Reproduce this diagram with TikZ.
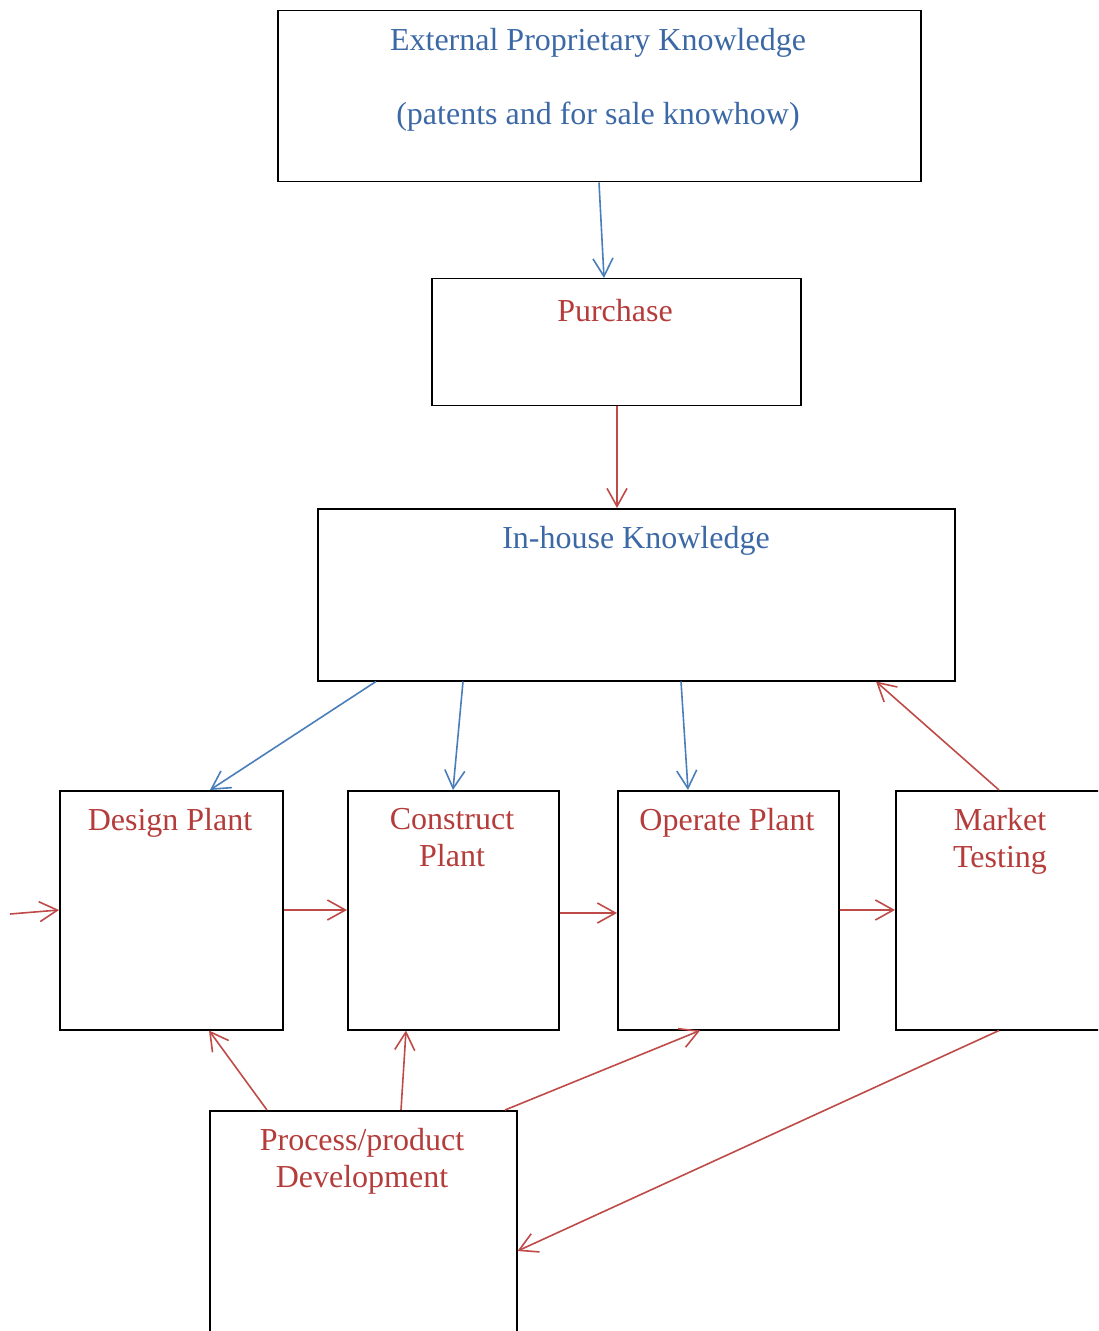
\documentclass[tikz,border=0pt]{standalone}
\usepackage{fontspec}
\setmainfont{Liberation Serif}
\usetikzlibrary{arrows.meta,calc}
\definecolor{bl}{RGB}{74,126,187}
\definecolor{rd}{RGB}{190,75,72}
\definecolor{blt}{RGB}{60,105,165}
\definecolor{rdt}{RGB}{180,60,58}
\begin{document}
\begin{tikzpicture}[x=0.5pt,y=-0.5pt,
  bx/.style 2 args={draw=black,line width=0.75pt,inner sep=0pt,anchor=north west,
     minimum width=#1*0.5pt,minimum height=#2*0.5pt},
  btxt/.style={text=blt,font=\fontsize{16}{18.5}\selectfont,align=center,inner sep=0pt},
  rtxt/.style={text=rdt,font=\fontsize{16}{18.5}\selectfont,align=center,inner sep=0pt},
  barr/.style={draw=bl,line width=0.8pt,-{Straight Barb[length=9pt,width=10pt,line width=0.8pt]}},
  rarr/.style={draw=rd,line width=0.8pt,-{Straight Barb[length=9pt,width=10pt,line width=0.8pt]}}]
\useasboundingbox (0,0) rectangle (1098,1331);
\begin{scope}
\clip (0,0) rectangle (1098,1331);
\node[bx={643}{171}] (ext) at (277,10) {};
\node[bx={369}{127}] (pur) at (431,278) {};
\node[bx={637}{172}] (inh) at (317,508) {};
\node[bx={223}{239}] (des) at (59,790) {};
\node[bx={211}{239}] (con) at (347,790) {};
\node[bx={221}{239}] (ope) at (617,790) {};
\node[bx={210}{239}] (mar) at (895,790) {};
\node[bx={307}{240}] (pro) at (209,1110) {};
\end{scope}
\node[btxt] (t1) at (598,43) {External Proprietary Knowledge};
\node[btxt] (t2) at (598,117) {(patents and for sale knowhow)};
\node[rtxt] (t3) at (615,311) {Purchase};
\node[btxt] (t4) at (636,541) {In-house Knowledge};
\node[rtxt] (t5) at (170,823) {Design Plant};
\node[rtxt,anchor=north] (t6) at (452,808) {Construct\\Plant};
\node[rtxt] (t7) at (727,823) {Operate Plant};
\node[rtxt,anchor=north] (t8) at (1000,808) {Market\\Testing};
\node[rtxt,anchor=north] (t9) at (362,1128) {Process/product\\Development};
\coordinate (lin) at (10,914);
% arrows
\draw[barr] ($(ext.south west)+(322,0)$) -- ($(pur.north west)+(173,0)$);
\draw[rarr] ($(pur.south west)+(186,0)$) -- ($(inh.north west)+(300,0)$);
\draw[barr] ($(inh.south west)+(59,0)$) -- ($(des.north west)+(151,0)$);
\draw[barr] ($(inh.south west)+(146,0)$) -- ($(con.north west)+(106,0)$);
\draw[barr] ($(inh.south west)+(364,0)$) -- ($(ope.north west)+(71,0)$);
\draw[rarr] ($(mar.north west)+(104,0)$) -- ($(inh.south west)+(559,0)$);
\draw[rarr] (lin) -- ($(des.north west)+(0,120)$);
\draw[rarr] ($(des.north east)+(0,120)$) -- ($(con.north west)+(0,120)$);
\draw[rarr] ($(con.north east)+(0,123)$) -- ($(ope.north west)+(0,123)$);
\draw[rarr] ($(ope.north east)+(0,120)$) -- ($(mar.north west)+(0,120)$);
\draw[rarr] ($(pro.north west)+(58,0)$) -- ($(des.south west)+(150,0)$);
\draw[rarr] ($(pro.north west)+(192,0)$) -- ($(con.south west)+(59,0)$);
\draw[rarr] ($(pro.north west)+(296,0)$) -- ($(ope.south west)+(83,0)$);
\draw[rarr] ($(mar.south west)+(104,0)$) -- ($(pro.north east)+(0,141)$);
\end{tikzpicture}
\end{document}
